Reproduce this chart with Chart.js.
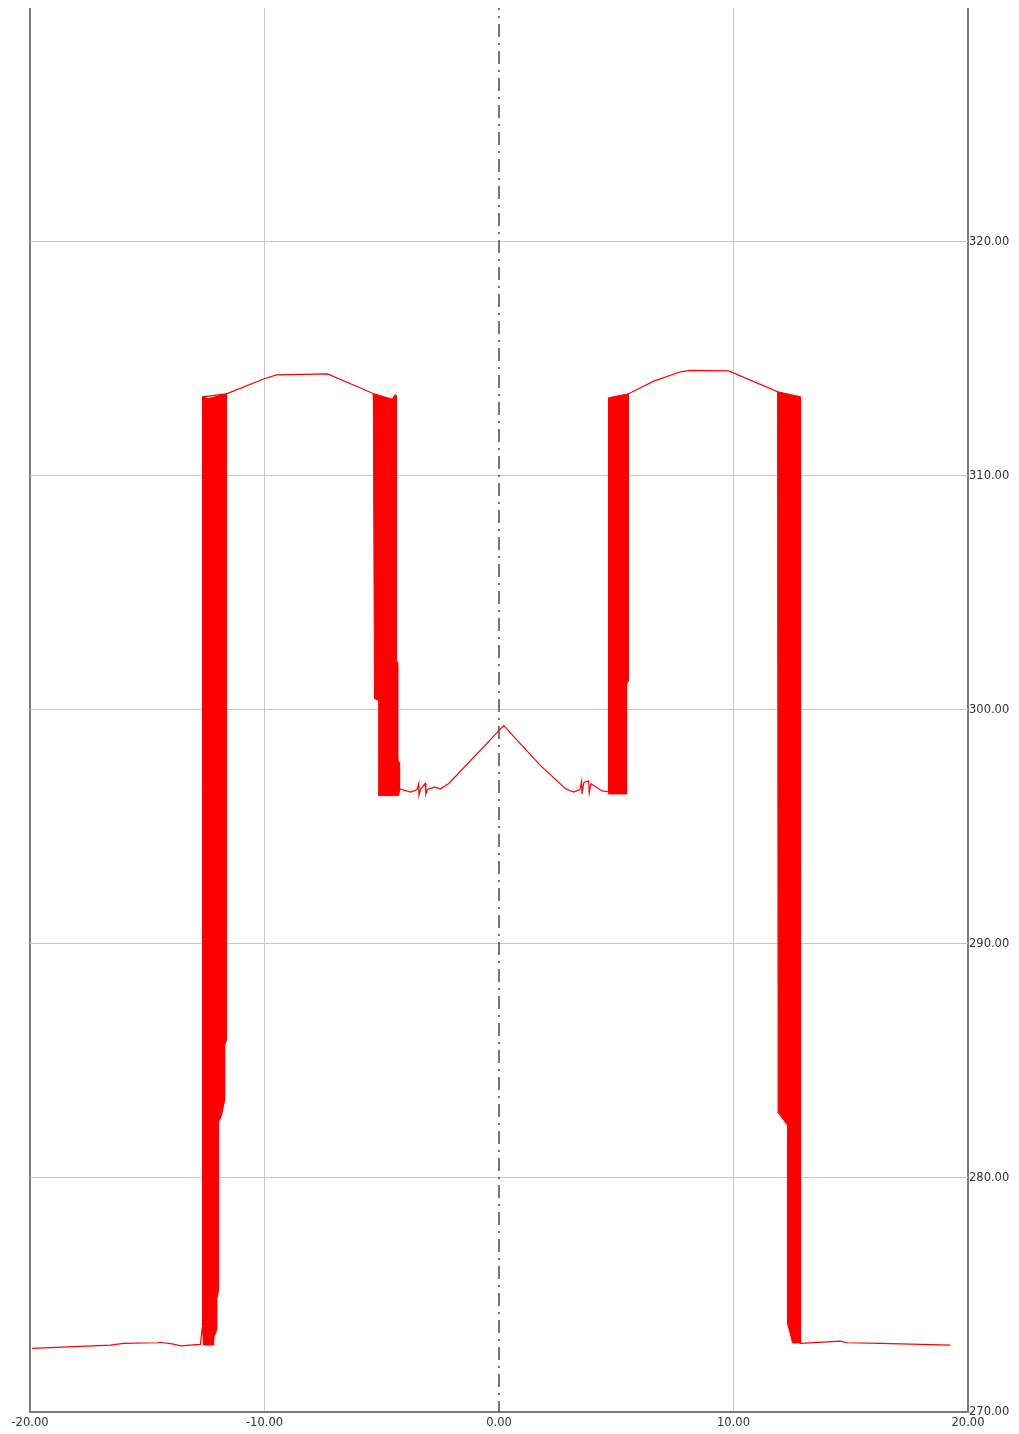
<!DOCTYPE html>
<html>
<head>
<meta charset="utf-8">
<script src="https://cdn.jsdelivr.net/npm/chart.js@4"></script>
<style>
  html, body { margin: 0; padding: 0; background: #fff; }
  #wrap { width: 1019px; height: 1434px; }
</style>
</head>
<body>
<div id="wrap"><canvas id="profileChart"></canvas></div>
<script>
// axis ranges / ticks
const xTicks = [-20, -10, 0, 10, 20];
const yTicks = [270, 280, 290, 300, 310, 320];
const yTop = 330;

// thin profile trace
const traceX = [-19.91, -16.57, -16.01, -14.56, -14.43, -13.88, -13.58, -12.73, -12.66, -12.64,
  -11.62, -10.04, -9.49, -7.31, -5.36,
  -4.24, -3.77, -3.50, -3.42, -3.41, -3.35, -3.15, -3.12, -3.05, -2.75, -2.49, -2.14, 0.20,
  1.77, 2.84, 3.19, 3.45, 3.52, 3.54, 3.62, 3.82, 3.85, 3.92, 4.40, 4.68,
  5.52, 6.60, 7.74, 8.17, 9.79, 11.88,
  12.86, 14.56, 14.85, 16.27, 19.25];
const traceY = [272.72, 272.86, 272.93, 272.96, 272.98, 272.90, 272.83, 272.89, 273.60, 313.38,
  313.51, 314.14, 314.32, 314.36, 313.52,
  296.63, 296.49, 296.60, 296.86, 296.35, 296.60, 296.86, 296.40, 296.60, 296.70, 296.63, 296.86, 299.33,
  297.62, 296.63, 296.49, 296.60, 296.95, 296.41, 296.90, 296.97, 296.45, 296.85, 296.54, 296.50,
  313.51, 314.05, 314.45, 314.51, 314.49, 313.60,
  272.93, 273.03, 272.96, 272.93, 272.86];

// dense oscillation bands (outline of each filled region)
const band1X = [-12.64, -12.41, -11.62, -11.62, -11.70, -11.70, -11.83, -11.96, -11.96, -12.04, -12.04, -12.17, -12.17, -12.60, -12.64, -12.64];
const band1Y = [313.38, 313.30, 313.51, 285.88, 285.67, 283.32, 282.68, 282.38, 275.21, 274.78, 273.50, 273.16, 272.86, 272.86, 273.50, 313.38];

const band2X = [-5.36, -4.55, -4.44, -4.37, -4.37, -4.32, -4.32, -4.24, -4.24, -4.28, -5.13, -5.13, -5.31, -5.36];
const band2Y = [313.52, 313.28, 313.47, 313.43, 302.11, 302.02, 297.84, 297.75, 296.56, 296.34, 296.34, 300.40, 300.49, 313.52];

const band3X = [4.67, 5.52, 5.52, 5.44, 5.44, 4.68, 4.67];
const band3Y = [313.34, 313.51, 301.25, 301.10, 296.41, 296.41, 313.34];

const band4X = [11.88, 12.86, 12.86, 12.52, 12.30, 12.30, 11.93, 11.90, 11.88];
const band4Y = [313.60, 313.38, 272.95, 272.95, 273.80, 282.25, 282.77, 286.31, 313.60];

// dashed zero marker, drawn top to bottom
const zeroX = [0, 0];
const zeroY = [330, 270];

const RED = '#ff0000';
const GRID = '#c8c8c8';
const FRAME = '#7a7a7a';

function pts(xs, ys) {
  return xs.map((x, i) => ({ x: x, y: ys[i] }));
}

function bandSet(xs, ys) {
  return {
    data: pts(xs, ys),
    showLine: true,
    borderColor: RED,
    backgroundColor: RED,
    borderWidth: 1,
    pointRadius: 0,
    fill: 'shape',
    tension: 0,
    order: 2
  };
}

const fmt = v => Number(v).toFixed(2);

new Chart(document.getElementById('profileChart'), {
  type: 'scatter',
  data: {
    datasets: [
      {
        data: pts(zeroX, zeroY),
        showLine: true,
        borderColor: '#4a4a4a',
        borderWidth: 1.5,
        borderDash: [13, 6, 2, 6],
        borderDashOffset: 11,
        pointRadius: 0,
        order: 10
      },
      bandSet(band1X, band1Y),
      bandSet(band2X, band2Y),
      bandSet(band3X, band3Y),
      bandSet(band4X, band4Y),
      {
        data: pts(traceX, traceY),
        showLine: true,
        borderColor: RED,
        borderWidth: 1.2,
        pointRadius: 0,
        tension: 0,
        order: 1
      }
    ]
  },
  options: {
    responsive: true,
    maintainAspectRatio: false,
    animation: false,
    layout: { padding: { left: 30, top: 6, right: 0, bottom: 0 } },
    plugins: {
      legend: { display: false },
      tooltip: { enabled: false }
    },
    scales: {
      x: {
        type: 'linear',
        min: xTicks[0],
        max: xTicks[xTicks.length - 1],
        afterBuildTicks: s => { s.ticks = xTicks.map(v => ({ value: v })); },
        afterFit: s => { s.height = 22; },
        ticks: {
          callback: fmt,
          color: '#333',
          padding: 4,
          maxRotation: 0,
          font: { family: 'DejaVu Sans', size: 11.5 }
        },
        grid: {
          drawTicks: false,
          color: c => {
            const v = c.tick && c.tick.value;
            if (v === 0) return 'rgba(0,0,0,0)';
            if (v === -20 || v === 20) return FRAME;
            return GRID;
          },
          lineWidth: c => {
            const v = c.tick && c.tick.value;
            return (v === -20 || v === 20) ? 2 : 1;
          }
        },
        border: { color: FRAME, width: 2 }
      },
      y: {
        type: 'linear',
        position: 'right',
        min: yTicks[0],
        max: yTop,
        afterBuildTicks: s => { s.ticks = yTicks.map(v => ({ value: v })); },
        afterFit: s => { s.width = 51; },
        ticks: {
          callback: fmt,
          color: '#333',
          padding: 1,
          font: { family: 'DejaVu Sans', size: 11.5 }
        },
        grid: {
          drawTicks: false,
          color: c => (c.tick && c.tick.value === 270) ? 'rgba(0,0,0,0)' : GRID,
          lineWidth: 1
        },
        border: { display: false }
      }
    }
  }
});
</script>
</body>
</html>
